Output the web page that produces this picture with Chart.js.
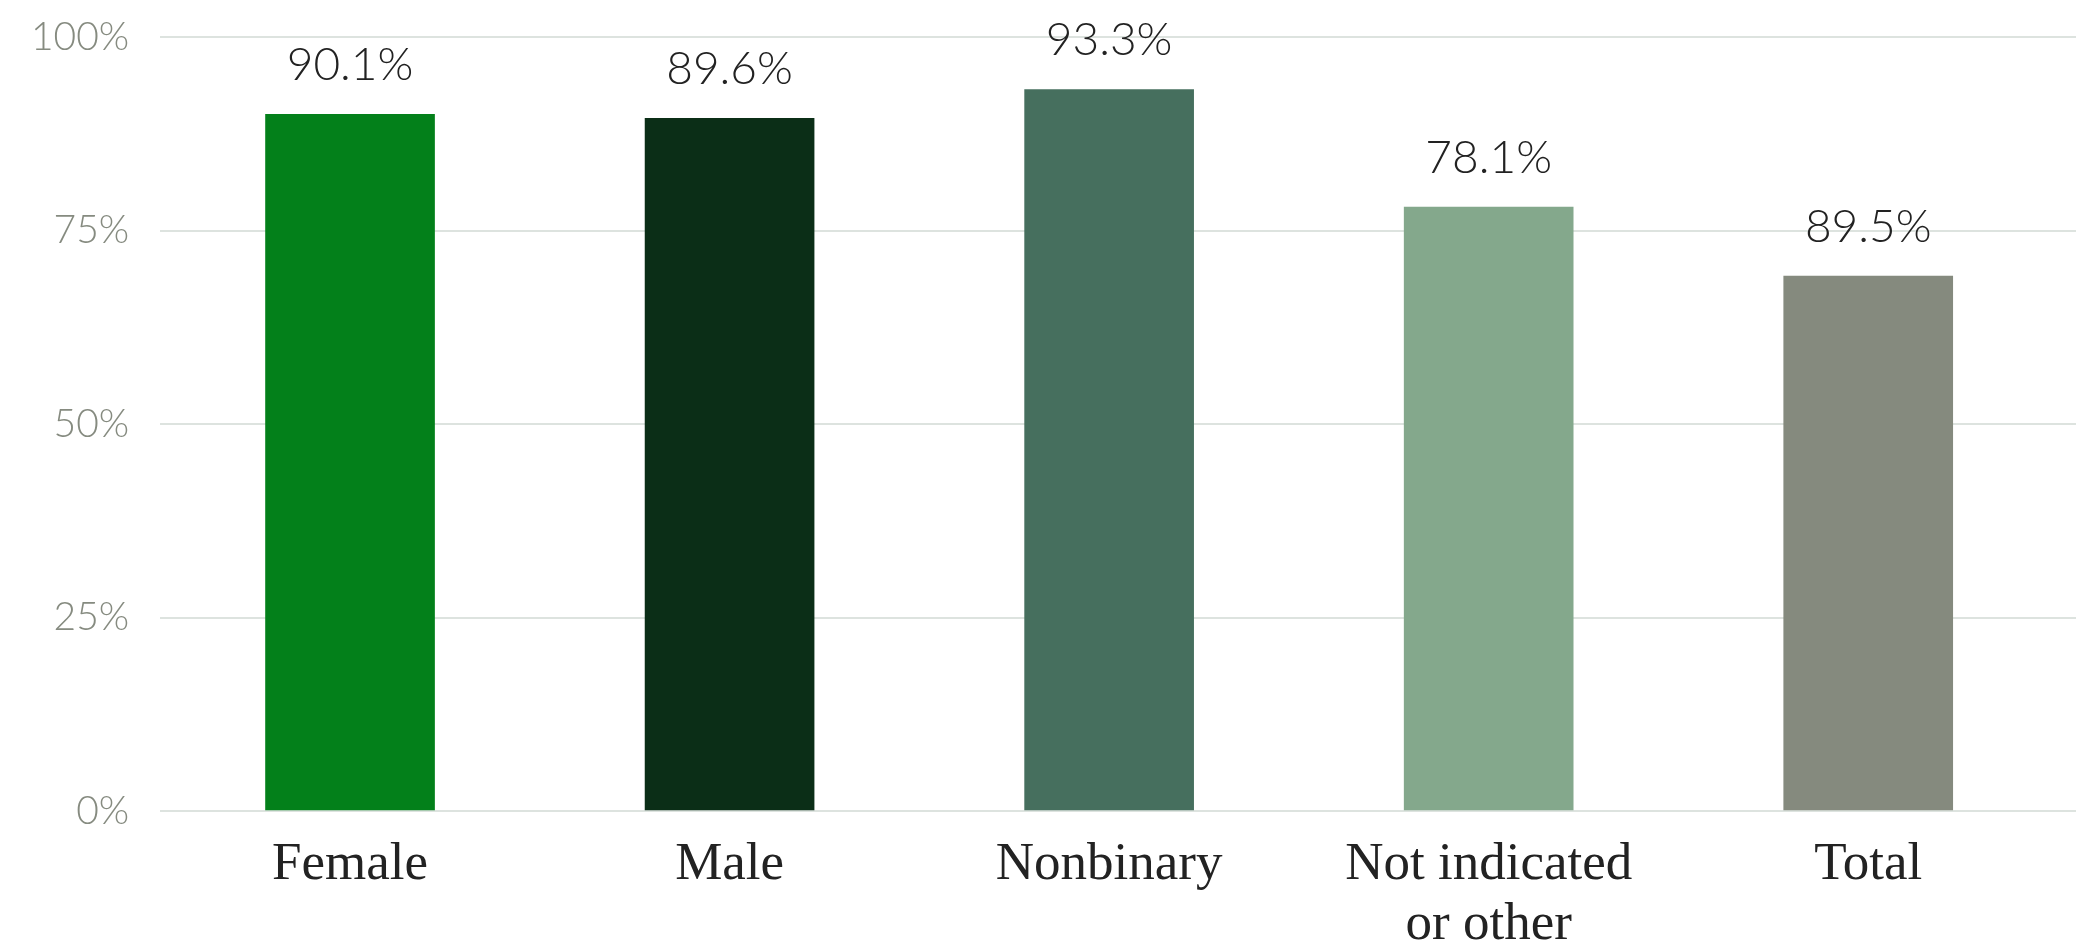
<!DOCTYPE html>
<html>
<head>
<meta charset="utf-8">
<script src="https://cdn.jsdelivr.net/npm/chart.js@4"></script>
<style>
  html, body { margin: 0; padding: 0; background: #ffffff; }
  #wrap { width: 2076px; height: 950px; overflow: hidden; }
  #inner { width: 2076px; height: 971px; margin-top: -17px; }
</style>
</head>
<body>
<div id="wrap"><div id="inner"><canvas id="graph1"></canvas></div></div>
<script>
const categories = ['Female', 'Male', 'Nonbinary', ['Not indicated', 'or other'], 'Total'];
const barValues = [90.1, 89.6, 93.3, 78.1, 69.2];
const valueLabels = ['90.1%', '89.6%', '93.3%', '78.1%', '89.5%'];
const barColors = ['#03801a', '#0b2e17', '#466f5e', '#84a88c', '#858a7e'];
const yTicks = [0, 25, 50, 75, 100];

// write the percent text above each bar
const valueLabelPlugin = {
    id: 'valueLabels',
    afterDatasetsDraw(chart) {
        const ctx = chart.ctx;
        const meta = chart.getDatasetMeta(0);
        ctx.save();
        ctx.font = '300 46px Lato';
        ctx.fillStyle = '#222222';
        ctx.textAlign = 'center';
        ctx.textBaseline = 'middle';
        meta.data.forEach((bar, i) => {
            ctx.fillText(valueLabels[i], bar.x, bar.y - 49);
        });
        ctx.restore();
    }
};

// the gridlines in the original run on to the right edge of the picture
const gridTailPlugin = {
    id: 'gridTail',
    beforeDatasetsDraw(chart) {
        const ctx = chart.ctx;
        const y = chart.scales.y;
        ctx.save();
        ctx.strokeStyle = '#dde3df';
        ctx.lineWidth = 2;
        y.ticks.forEach(t => {
            const py = Math.round(y.getPixelForValue(t.value));
            ctx.beginPath();
            ctx.moveTo(chart.chartArea.right, py);
            ctx.lineTo(chart.width, py);
            ctx.stroke();
        });
        ctx.restore();
    }
};

const chart1 = document.getElementById('graph1').getContext('2d');
const myChart1 = new Chart(chart1, {
    type: 'bar',
    data: {
        labels: categories,
        datasets: [{
            data: barValues,
            backgroundColor: barColors,
            borderWidth: 0
        }]
    },
    options: {
        responsive: true,
        maintainAspectRatio: false,
        animation: false,
        layout: {
            padding: { top: 0, right: 18, left: 0, bottom: -25 }
        },
        categoryPercentage: 1,
        barPercentage: 0.447,
        scales: {
            x: {
                grid: { display: false, drawTicks: false },
                border: { display: false },
                ticks: {
                    color: '#222222',
                    padding: 24,
                    maxRotation: 0,
                    autoSkip: false,
                    font: { family: 'Liberation Serif', size: 53, lineHeight: 1.13 }
                }
            },
            y: {
                min: 0,
                max: 100,
                afterBuildTicks(scale) {
                    scale.ticks = yTicks.map(v => ({ value: v }));
                },
                grid: {
                    color: '#dde3df',
                    lineWidth: 2,
                    drawTicks: false
                },
                border: { display: false },
                ticks: {
                    color: '#868b80',
                    padding: 31,
                    font: { family: 'Lato', size: 39, weight: '300' },
                    callback: v => v + '%'
                }
            }
        },
        plugins: {
            legend: { display: false },
            tooltip: { enabled: false },
            title: { display: false }
        }
    },
    plugins: [gridTailPlugin, valueLabelPlugin]
});
</script>
</body>
</html>
